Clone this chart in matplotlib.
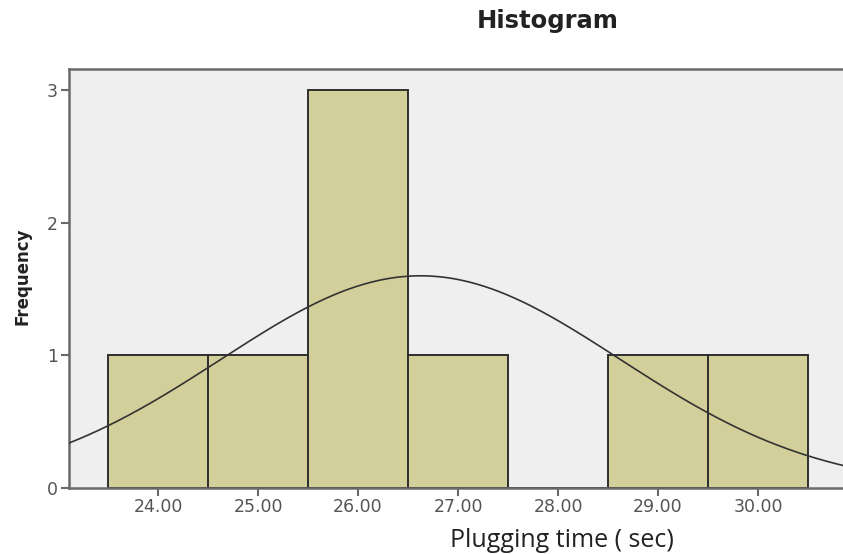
"""SPSS-style histogram of plugging times with a fitted normal curve."""
import numpy as np
import matplotlib
matplotlib.use("Agg")
import matplotlib.pyplot as plt
from matplotlib import font_manager


# Data
bin_centers = [24.0, 25.0, 26.0, 27.0, 28.0, 29.0, 30.0]
counts = [1, 1, 3, 1, 0, 1, 1]
x_ticks = [24.0, 25.0, 26.0, 27.0, 28.0, 29.0, 30.0]
y_ticks = [0, 1, 2, 3]

BIN_WIDTH = 1.0
BAR_COLOR = "#d3cf9a"
BG_COLOR = "#efefef"
AXIS_GRAY = "#6a6a6a"
TEXT_GRAY = "#555555"


def normal_overlay(centers, freqs, xs, width):
    """Normal curve scaled to the histogram, like SPSS draws it."""
    c = np.asarray(centers, dtype=float)
    f = np.asarray(freqs, dtype=float)
    n = f.sum()
    mean = (c * f).sum() / n
    sd = np.sqrt(((c - mean) ** 2 * f).sum() / (n - 1))
    dens = np.exp(-0.5 * ((xs - mean) / sd) ** 2) / (sd * np.sqrt(2 * np.pi))
    return n * width * dens


# narrow bold face for the y label if the system has one
installed = {f.name for f in font_manager.fontManager.ttflist}
if "Liberation Sans Narrow" in installed:
    ylab_family, ylab_size = "Liberation Sans Narrow", 14.5
else:
    ylab_family, ylab_size = "DejaVu Sans", 12

fig = plt.figure(figsize=(8.43, 5.54), dpi=100)
ax = fig.add_axes([0.0819, 0.1191, 0.9181, 0.7564])
ax.set_facecolor(BG_COLOR)

ax.bar(bin_centers, counts, width=BIN_WIDTH, color=BAR_COLOR,
       edgecolor="#2e2e2e", linewidth=1.4, zorder=2)

xlim = (23.11, 30.85)
xs = np.linspace(xlim[0], xlim[1], 400)
ax.plot(xs, normal_overlay(bin_centers, counts, xs, BIN_WIDTH),
        color="#333333", linewidth=1.2, zorder=3)

ax.set_xlim(*xlim)
ax.set_ylim(0, 3.158)

ax.set_xticks(x_ticks)
ax.set_xticklabels([f"{t:.2f}" for t in x_ticks])
ax.set_yticks(y_ticks)

# spines: left + top + bottom, no right (chart runs off the edge)
for side in ("left", "top", "bottom"):
    ax.spines[side].set_color(AXIS_GRAY)
    ax.spines[side].set_linewidth(1.8)
ax.spines["right"].set_visible(False)

ax.tick_params(axis="both", colors=AXIS_GRAY, labelcolor=TEXT_GRAY,
               length=6, width=1.5, labelsize=12.5)
ax.tick_params(axis="x", pad=1)
ax.tick_params(axis="y", pad=2)
for lbl in ax.get_xticklabels() + ax.get_yticklabels():
    lbl.set_family("DejaVu Sans")

fig.text(0.650, 0.962, "Histogram", ha="center", va="center",
         fontsize=17.5, fontweight="bold", family="DejaVu Sans",
         color="#222222")
fig.text(0.027, 0.502, "Frequency", ha="center", va="center", rotation=90,
         fontsize=ylab_size, fontweight="bold", family=ylab_family,
         color="#222222")
fig.text(0.666, 0.024, "Plugging time ( sec)", ha="center", va="center",
         fontsize=18, family="Open Sans", color="#222222")

fig.savefig("out.png", dpi=100)
